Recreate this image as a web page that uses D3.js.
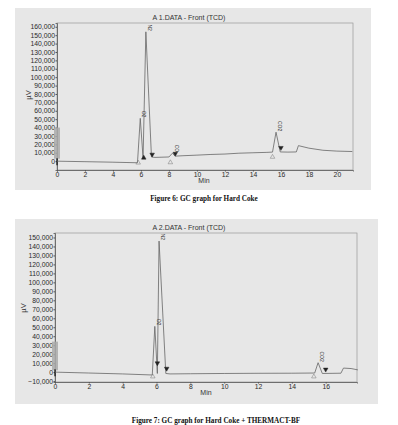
<!DOCTYPE html>
<html>
<head>
<meta charset="utf-8">
<script src="https://cdn.jsdelivr.net/npm/d3@7"></script>
<style>
  body { margin: 0; background: #fff; }
  svg text { font-family: "Liberation Sans", Arial, sans-serif; fill: #333; }
  .cap { font-family: "Liberation Serif", "Times New Roman", serif; font-weight: bold; fill: #111; }
  .axis path, .axis line { stroke: #555; }
  .axis text { font-size: 6.8px; fill: #2a2a2a; }
</style>
</head>
<body>
<script>
// chart 1: Hard Coke
var time1 = [0, 1, 2, 3, 4, 5, 5.75, 5.95, 6.15, 6.35, 6.75, 7, 8, 8.25, 8.45, 9, 10, 11, 12, 13, 14, 15, 15.4, 15.65, 15.95, 16.5, 17.1, 17.25, 18, 19, 20, 21.1];
var signal1 = [0, -300, -600, -900, -1200, -1600, -1900, 51000, 3500, 154000, 5000, 4500, 5000, 9500, 6000, 6500, 7200, 8000, 8500, 9500, 10000, 10500, 10800, 34500, 11000, 10800, 11000, 18500, 15500, 13000, 12000, 11500];
var yTicks1 = d3.range(0, 160001, 10000);
var xTicks1 = [0, 2, 4, 6, 8, 10, 12, 14, 16, 18, 20];
var peaks1 = [{t: 5.95, v: 51000, name: "O2"}, {t: 6.35, v: 154000, name: "N2"}, {t: 8.3, v: 9500, name: "CO"}, {t: 15.65, v: 34500, name: "CO2"}];
var marks1 = [{t: 5.8, v: -1900, type: "up"}, {t: 6.2, v: 4000, type: "fill"}, {t: 6.8, v: 8000, type: "down"},
              {t: 8.1, v: -1500, type: "up"}, {t: 8.45, v: 9000, type: "down"}, {t: 15.4, v: 5000, type: "up"}, {t: 16.0, v: 16000, type: "down"}];

// chart 2: Hard Coke + THERMACT-BF
var time2 = [0, 2, 4, 5.75, 5.9, 6.05, 6.15, 6.55, 6.8, 8, 10, 12, 14, 15.35, 15.55, 15.8, 16.9, 17.05, 17.5, 17.9];
var signal2 = [0, -1000, -2000, -3200, 51000, -1500, 146000, -1500, -2000, -1800, -1500, -1300, -1200, -1000, 10500, -1500, -1200, 4500, 4000, 2500];
var yTicks2 = d3.range(-10000, 150001, 10000);
var xTicks2 = [0, 2, 4, 6, 8, 10, 12, 14, 16];
var peaks2 = [{t: 5.9, v: 51000, name: "O2"}, {t: 6.15, v: 146000, name: "N2"}, {t: 15.55, v: 10500, name: "CO2"}];
var marks2 = [{t: 5.78, v: -5000, type: "up"}, {t: 6.05, v: 10000, type: "down"}, {t: 6.6, v: 4000, type: "down"},
              {t: 15.3, v: -5000, type: "up"}, {t: 16.0, v: 3000, type: "down"}];

var svg = d3.select("body").append("svg")
    .attr("width", 398)
    .attr("height", 425);

function drawPanel(cfg) {
    var g = svg.append("g");

    // gray scanned background
    g.append("rect")
        .attr("x", cfg.bg[0]).attr("y", cfg.bg[1])
        .attr("width", cfg.bg[2]).attr("height", cfg.bg[3])
        .attr("fill", "#e7e7e7");

    var x = d3.scaleLinear().domain(cfg.xDomain).range([cfg.left, cfg.right]);
    var y = d3.scaleLinear().domain(cfg.yDomain).range([cfg.bottom, cfg.top]);

    // plot frame
    g.append("rect")
        .attr("x", cfg.left).attr("y", cfg.top)
        .attr("width", cfg.right - cfg.left).attr("height", cfg.bottom - cfg.top)
        .attr("fill", "none")
        .attr("stroke", "#999")
        .attr("stroke-width", 0.7);

    // axes
    g.append("g")
        .attr("class", "axis")
        .attr("transform", "translate(" + cfg.left + ",0)")
        .call(d3.axisLeft(y).tickValues(cfg.yTicks).tickSize(1.5).tickPadding(0.5).tickFormat(d3.format(",")))
        .call(function(a) { a.select(".domain").attr("stroke-width", 0.8); });

    g.append("g")
        .attr("class", "axis")
        .attr("transform", "translate(0," + cfg.bottom + ")")
        .call(d3.axisBottom(x).tickValues(cfg.xTicks).tickSize(1.5).tickPadding(1).tickFormat(d3.format("d")))
        .call(function(a) { a.select(".domain").attr("stroke-width", 0.8); });

    // grey sticker on the axis
    g.append("rect")
        .attr("x", cfg.left - 3).attr("y", y(cfg.sticker[1]))
        .attr("width", 6).attr("height", y(cfg.sticker[0]) - y(cfg.sticker[1]))
        .attr("fill", "#aaa").attr("opacity", 0.85);

    // start marker
    g.append("line")
        .attr("x1", x(0)).attr("x2", x(0))
        .attr("y1", y(0) - 3).attr("y2", y(0) + 4)
        .attr("stroke", "#111").attr("stroke-width", 1.2);

    // chromatogram trace
    var line = d3.line()
        .x(function(d, i) { return x(cfg.time[i]); })
        .y(function(d) { return y(d); });

    g.append("path")
        .datum(cfg.signal)
        .attr("d", line)
        .attr("fill", "none")
        .attr("stroke", "#666")
        .attr("stroke-width", 0.8);

    // peak labels
    g.selectAll(".plabel")
        .data(cfg.peaks)
        .enter().append("text")
        .attr("transform", function(d) { return "translate(" + (x(d.t) + 2) + "," + (y(d.v) - 1) + ") rotate(90)"; })
        .style("font-size", "5px")
        .style("text-anchor", "end")
        .text(function(d) { return d.name; });

    // integration markers
    var sym = d3.symbol().type(d3.symbolTriangle).size(9);
    g.selectAll(".mk")
        .data(cfg.marks)
        .enter().append("path")
        .attr("d", sym)
        .attr("transform", function(d) {
            return "translate(" + x(d.t) + "," + y(d.v) + ")" + (d.type == "down" ? " rotate(180)" : "");
        })
        .attr("fill", function(d) { return d.type == "up" ? "none" : "#222"; })
        .attr("stroke", function(d) { return d.type == "up" ? "#777" : "#222"; })
        .attr("stroke-width", 0.5);

    // titles
    g.append("text")
        .attr("x", cfg.titleX).attr("y", cfg.top - 3)
        .style("font-size", "7px")
        .style("text-anchor", "middle")
        .text(cfg.title);

    g.append("text")
        .attr("transform", "translate(" + cfg.yLabel[0] + "," + cfg.yLabel[1] + ") rotate(-90)")
        .style("font-size", "7.5px")
        .style("text-anchor", "middle")
        .text("µV");

    g.append("text")
        .attr("x", cfg.xLabel[0]).attr("y", cfg.xLabel[1])
        .style("font-size", "7px")
        .style("text-anchor", "middle")
        .text("Min");

    // caption
    svg.append("text")
        .attr("class", "cap")
        .attr("x", cfg.cap[0]).attr("y", cfg.cap[1])
        .style("font-size", "7.2px")
        .style("text-anchor", "middle")
        .text(cfg.caption);
}

drawPanel({
    bg: [15, 8, 356, 182],
    left: 57, right: 353, top: 23, bottom: 170,
    xDomain: [0, 21.15], yDomain: [-10500, 164500],
    xTicks: xTicks1, yTicks: yTicks1,
    time: time1, signal: signal1, peaks: peaks1, marks: marks1,
    sticker: [3000, 40000],
    title: "A 1.DATA - Front (TCD)", titleX: 189,
    yLabel: [31, 95], xLabel: [204, 183],
    caption: "Figure 6: GC graph for Hard Coke", cap: [204, 201]
});

drawPanel({
    bg: [15, 219, 363, 185],
    left: 55, right: 357, top: 233, bottom: 382,
    xDomain: [0, 17.85], yDomain: [-11000, 155000],
    xTicks: xTicks2, yTicks: yTicks2,
    time: time2, signal: signal2, peaks: peaks2, marks: marks2,
    sticker: [2000, 34000],
    title: "A 2.DATA - Front (TCD)", titleX: 189,
    yLabel: [26, 308], xLabel: [206, 395],
    caption: "Figure 7: GC graph for Hard Coke + THERMACT-BF", cap: [216, 423]
});
</script>
</body>
</html>
